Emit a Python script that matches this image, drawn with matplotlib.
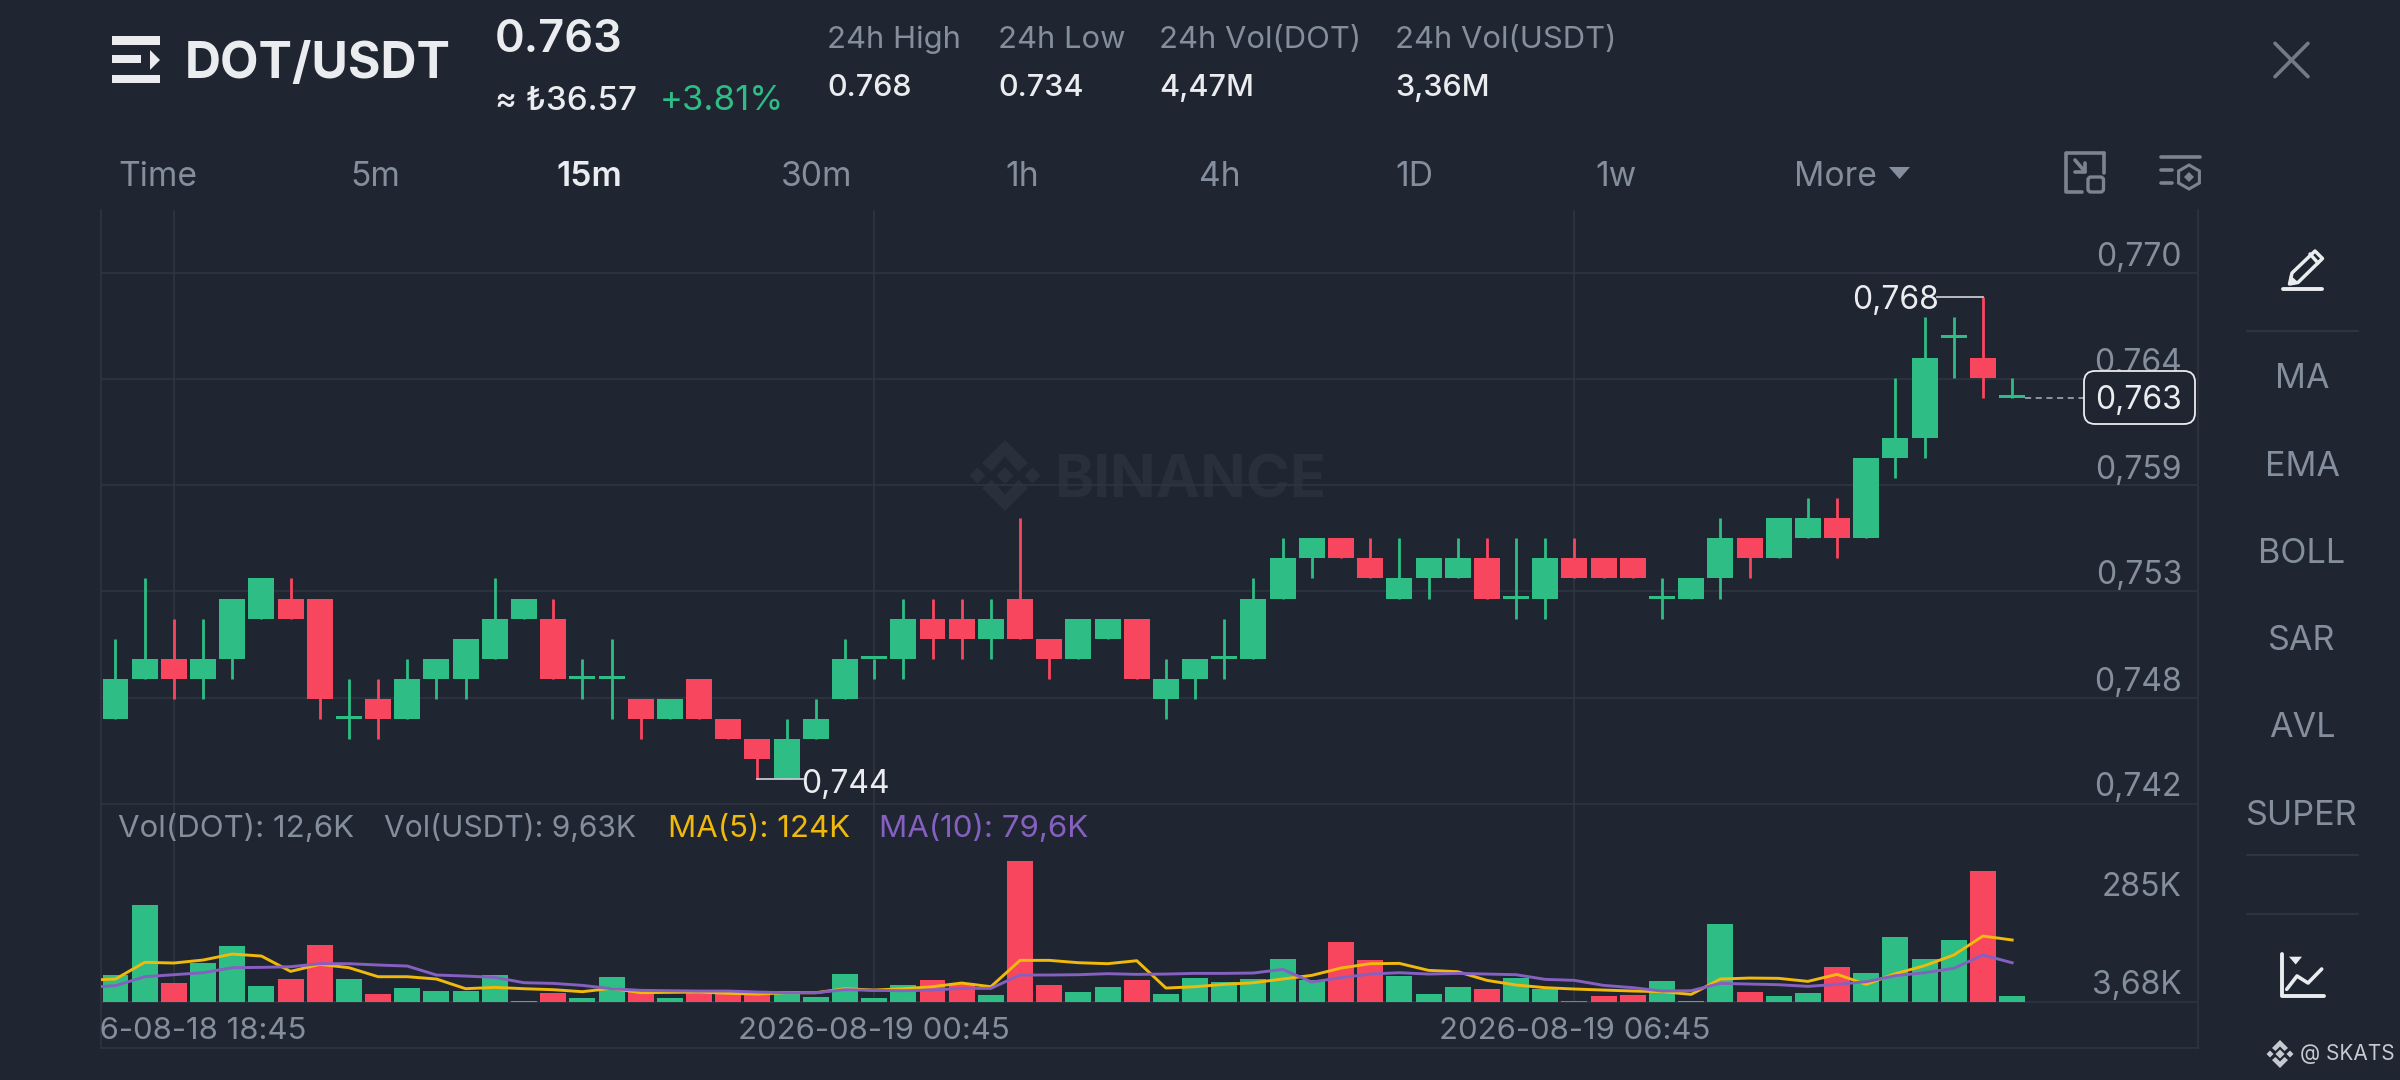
import numpy as np
import matplotlib
matplotlib.use("Agg")
import matplotlib.pyplot as plt
from matplotlib.patches import Rectangle, Polygon, FancyBboxPatch, RegularPolygon

plt.rcParams['font.family'] = ['Inter', 'DejaVu Sans']

# ---------- data ----------
opens = [.747,.749,.750,.749,.750,.752,.753,.753,.747,.748,.747,.749,.749,.750,.752,.752,.749,.749,
         .748,.747,.749,.747,.746,.744,.746,.748,.750,.750,.752,.752,.751,.753,.751,.750,.751,.752,
         .748,.749,.750,.750,.753,.755,.756,.755,.753,.754,.754,.755,.753,.753,.755,.755,.755,.753,
         .753,.754,.756,.755,.756,.757,.756,.760,.761,.766,.765,.763]
closes = [.749,.750,.749,.750,.753,.754,.752,.748,.747,.747,.749,.750,.751,.752,.753,.749,.749,.749,
          .747,.748,.747,.746,.745,.746,.747,.750,.750,.752,.751,.751,.752,.751,.750,.752,.752,.749,
          .749,.750,.750,.753,.755,.756,.755,.754,.754,.755,.755,.753,.753,.755,.754,.754,.754,.753,
          .754,.756,.755,.757,.757,.756,.760,.761,.765,.766,.764,.763]
highs = [.751,.754,.752,.752,.753,.754,.754,.753,.749,.749,.750,.750,.751,.754,.753,.753,.750,.751,
         .748,.748,.749,.747,.746,.747,.748,.751,.750,.753,.753,.753,.753,.757,.751,.752,.752,.752,
         .750,.750,.752,.754,.756,.756,.756,.756,.756,.755,.756,.756,.756,.756,.756,.755,.755,.754,
         .754,.757,.756,.757,.758,.758,.760,.764,.767,.767,.768,.764]
lows = [.747,.749,.748,.748,.749,.752,.752,.747,.746,.746,.747,.748,.748,.750,.752,.749,.748,.747,
        .746,.747,.747,.746,.744,.744,.746,.748,.749,.749,.750,.750,.750,.751,.749,.750,.751,.749,
        .747,.748,.749,.750,.753,.754,.755,.754,.753,.753,.754,.753,.752,.752,.754,.754,.754,.752,
        .753,.753,.754,.755,.756,.755,.756,.759,.760,.764,.763,.763]
volume_k = [55.7,192.8,40.7,79.7,112.9,34.2,47.2,113.5,47.9,18.6,31,25.1,25.1,55,4.3,21.2,10.2,51.1,
            23.2,10.8,23.2,25.1,21.2,25.1,12.8,57,11.5,35.5,46.6,39.4,16.7,278,35.5,23.2,32.3,45.9,
            18,49.8,41.4,48.5,86.9,45.9,119.4,85,54.4,18.6,32.3,29,49.8,29,4.3,15.4,17.3,43.3,4.3,
            155.1,21.9,15.4,19.9,71.9,58.9,129.8,86.2,123.3,259.1,14]
ma5_k = [45.3,47.9,80.4,79.1,84.9,96.6,92.7,62.8,76.5,70,52.4,52.4,47.9,29,31.6,29,27.1,23.2,29.7,
         21.2,21.9,22.5,19.9,18.6,21.2,21.2,29,26.4,29,32.9,40.1,32.9,84.3,84.3,79.7,77.8,83.6,30.3,
         32.9,37.5,40.7,47.9,55,69.3,77.8,78.4,64.8,62.2,45.3,36.2,31,28.4,26.4,24.5,23.2,18,47.9,
         49.8,49.2,43.3,57,37.5,58.3,73.9,94.7,131.7,124]
ma10_k = [31.6,34.9,52.4,56.3,60.2,70,70.6,71.9,77.8,77.8,75.2,73.2,55.7,53.7,51.1,40.7,39.4,35.5,29,
          25.8,25.1,24.5,24.5,22.5,21.2,21.2,27.1,25.8,25.1,26.4,29.7,29.7,55.7,55.7,56.3,58.3,57,
          57.6,58.9,58.9,59.6,66.7,42,50.5,57.6,60.2,57.6,58.9,57.6,56.3,47.2,45.3,35.5,31,24.5,25.1,
          39.4,38.1,36.8,33.6,37.5,42.7,54.4,60.2,68.7,94.7,79.6]
price_ticks = [.76923,.76394,.75864,.75338,.74806]
price_tick_labels = ['0,770','0,764','0,759','0,753','0,748']
pane_floor_price = .74277
pane_floor_label = '0,742'
vol_floor = 3.68
date_labels = ['2026-08-18 18:45','2026-08-19 00:45','2026-08-19 06:45']
date_idx = [2, 26, 50]
timeframes = ['Time','5m','15m','30m','1h','4h','1D','1w','More']
menu = ['MA','EMA','BOLL','SAR','AVL','SUPER']
stats = [('24h High','0.768'),('24h Low','0.734'),('24h Vol(DOT)','4,47M'),('24h Vol(USDT)','3,36M')]
hi_idx, hi_val = 64, .768
lo_idx, lo_val = 22, .744
last_price = .763

# ---------- style ----------
BG='#1F2631'; GRID='#2E3541'; GREEN='#2EBD85'; RED='#F9465F'; GREY='#848E9C'; WHITE='#EAECEF'
YEL='#F0B90B'; PUR='#8660C0'; MARK='#2A303B'
W,H=2400,1080; DPI=100
L,R,T,M,B=100.7,2198,210,804,1048
fig=plt.figure(figsize=(W/DPI,H/DPI),dpi=DPI,facecolor=BG)
def pane(top,bot):
    a=fig.add_axes([L/W,1-bot/H,(R-L)/W,(bot-top)/H],facecolor='none')
    a.set_xlim(-0.507,71.37)
    a.tick_params(length=0,labelleft=False,labelbottom=False)
    for s in a.spines.values(): s.set_color(GRID); s.set_linewidth(1.2)
    a.spines['top'].set_visible(False)
    return a
ax=pane(T,M); av=pane(M,B)
x=np.arange(len(opens))

# price pane
ax.set_ylim(.74277,.77235)
ax.set_yticks(price_ticks); ax.set_xticks(date_idx)
ax.grid(True,color=GRID,lw=1.2,zorder=0); ax.set_axisbelow(True)
o,c,h,l=map(np.array,(opens,closes,highs,lows))
col=[GREEN if a<=b else RED for a,b in zip(o,c)]
ax.vlines(x,l,h,colors=col,lw=2,zorder=3)
dz=o==c
ax.bar(x,np.abs(c-o),.89,bottom=np.minimum(o,c),color=col,zorder=4)
ax.bar(x[dz],.00015,.89,bottom=o[dz],color=GREEN,zorder=4)
PSZ=23
for t,s,dy in zip(price_ticks+[pane_floor_price],price_tick_labels+[pane_floor_label],[15]*5+[16]):
    ax.annotate(s,xy=(1,t),xycoords=('axes fraction','data'),xytext=(-16,dy),textcoords='offset pixels',
                ha='right',va='center',color=GREY,fontsize=PSZ,zorder=6)
ax.plot([hi_idx-1.58,hi_idx],[hi_val,hi_val],color='#C4C8CE',lw=1.3,zorder=5)
ax.annotate('0,768',xy=(hi_idx-1.58,hi_val),xytext=(2,-3),textcoords='offset pixels',ha='right',va='center',color=WHITE,fontsize=PSZ,zorder=6)
ax.plot([lo_idx,lo_idx+1.55],[lo_val,lo_val],color='#C4C8CE',lw=1.3,zorder=5)
ax.annotate('0,744',xy=(lo_idx+1.55,lo_val),xytext=(-2,-5),textcoords='offset pixels',ha='left',va='center',color=WHITE,fontsize=PSZ,zorder=6)
ax.plot([x[-1]+.45,69.2],[last_price,last_price],color='#AEB4BC',lw=1.1,ls=(0,(4,3)),zorder=5)

# volume pane
px_k=1.95
av.set_ylim(vol_floor-(B-1001.7)*px_k,vol_floor+(1001.7-M)*px_k)
av.set_yticks([vol_floor]); av.set_xticks([])
av.grid(True,axis='y',color=GRID,lw=1.2); av.set_axisbelow(True)
av.vlines(date_idx,vol_floor,av.get_ylim()[1],color=GRID,lw=1.2,zorder=0)
v=np.array(volume_k)
av.bar(x,v-vol_floor,.89,bottom=vol_floor,color=col,zorder=2)
xm=np.arange(-1,len(opens))
av.plot(xm,ma5_k,color=YEL,lw=2.1,zorder=3)
av.plot(xm,ma10_k,color=PUR,lw=2.1,zorder=4)
for i,s in zip(date_idx,date_labels):
    av.text(i,vol_floor-(1031-1001.7)*px_k,s,ha='center',va='center',color=GREY,fontsize=22.4,clip_on=True)

# overlay in pixel coordinates
ov=fig.add_axes([0,0,1,1],facecolor='none'); ov.set_xlim(0,W); ov.set_ylim(H,0); ov.axis('off')
def tx(px,py,s,size=21,color=GREY,ha='left',weight='normal',z=10):
    ov.text(px,py,s,fontsize=size,color=color,ha=ha,va='center',fontweight=weight,zorder=z)
def rect(x0,y0,x1,y1,color,z=8):
    ov.add_patch(Rectangle((x0,y0),x1-x0,y1-y0,fc=color,ec='none',zorder=z))
def poly(pts,color,z=8):
    ov.add_patch(Polygon(pts,closed=True,fc=color,ec='none',zorder=z))
def line(xs,ys,color,lw=2.0,z=8):
    ov.plot(xs,ys,color=color,lw=lw,solid_capstyle='round',zorder=z)

# watermark (behind marks)
ax.set_zorder(2); av.set_zorder(2); ov.set_zorder(3)
bgax=fig.add_axes([0,0,1,1],facecolor='none'); bgax.set_xlim(0,W); bgax.set_ylim(H,0); bgax.axis('off'); bgax.set_zorder(1)
cx,cy=1005,475.5
def dia(a,b,r): return [(a,b-r),(a+r,b),(a,b+r),(a-r,b)]
for a,b,r in [(cx,cy,8.5),(cx-27.5,cy,8),(cx+27.5,cy,8)]:
    bgax.add_patch(Polygon(dia(a,b,r),fc=MARK,ec='none'))
bgax.add_patch(Polygon([(cx,cy-35.5),(cx+23,cy-12.5),(cx+13.5,cy-4),(cx,cy-19),(cx-13.5,cy-4),(cx-23,cy-12.5)],fc=MARK,ec='none'))
bgax.add_patch(Polygon([(cx,cy+35.5),(cx+23,cy+12.5),(cx+13.5,cy+4),(cx,cy+19),(cx-13.5,cy+4),(cx-23,cy+12.5)],fc=MARK,ec='none'))
bgax.text(1054,cy+6,'BINANCE',fontsize=43,fontweight='bold',color=MARK,ha='left',va='center')

# header
rect(112,36,160,45,WHITE); rect(112,55,141,63,WHITE); rect(112,75,160,83,WHITE)
poly([(150,50),(160,60),(150,70)],WHITE)
tx(185,64,'DOT/USDT',36,WHITE,weight='bold')
tx(495,40,'0.763',32.5,WHITE,weight='semibold')
tx(495,101,'≈ ₺36.57',23.8,WHITE,weight='medium')
tx(660,101,'+3.81%',25,GREEN)
for px,(a,b) in zip([827,998,1159,1395],stats):
    tx(px,39.5,a,22.3,GREY); tx(px,88,b,22,WHITE,weight='medium')
for px,s in zip([118,350,556,781,1005,1199,1395,1595,1794],timeframes):
    tx(px,177,s,24.2,WHITE if s=='15m' else GREY,weight='semibold' if s=='15m' else 'normal')
poly([(1889,167),(1910,167),(1899.5,179)],GREY)

# toolbar icons
ic='#7D8490'
line([2104,2104],[173,153],ic,2.6); line([2104,2066,2066,2082],[153,153,192,192],ic,2.6)
ov.add_patch(FancyBboxPatch((2088,177),15.5,15,boxstyle='round,pad=0,rounding_size=3',fc='none',ec=ic,lw=2.4,zorder=8))
line([2075,2085],[160,171.7],ic,2.6); line([2085,2085,2075],[163.3,171.7,171.7],ic,2.6)
line([2161,2200],[157,157],ic,2.6); line([2161,2172],[170,170],ic,2.6); line([2161,2172],[183,183],ic,2.6)
ov.add_patch(RegularPolygon((2189,177),6,radius=12,fc='none',ec=ic,lw=2.2,zorder=8))
poly(dia(2189,177,5),ic)

# close X
line([2275,2308],[43.3,76.7],'#737B88',2.6); line([2308,2275],[43.3,76.7],'#737B88',2.6)

# pencil & side menu
ov.add_patch(Polygon([(2292,273),(2315,251),(2322.5,258.5),(2298,282.5),(2289.5,284)],closed=True,fc='none',ec=WHITE,lw=2.5,joinstyle='round',zorder=8))
line([2310,2318],[254,263],WHITE,2.5)
poly([(2290,275),(2298,282),(2289,284.5)],WHITE)
line([2283,2322],[289,289],WHITE,2.8)
for py,s in zip([379.5,467,554,641,728,816],menu):
    tx(2302,py,s,24.6,GREY,ha='center')
for py in [331,855,914]:
    line([2247,2358],[py,py],GRID,1.6)
# chart icon
line([2281.7,2281.7,2324],[954,996,996],WHITE,2.8)
line([2286.7,2297,2308,2321.7],[989.3,976,983,969],WHITE,2.6)
poly([(2289,956.7),(2302,956.7),(2295.7,964.5)],WHITE)

# volume header & labels
tx(118,829,'Vol(DOT): 12,6K',22.5)
tx(384,829,'Vol(USDT): 9,63K',21.6)
tx(668,829,'MA(5): 124K',22.5,YEL)
tx(879,829,'MA(10): 79,6K',22.5,PUR)
tx(2182,887.5,'285K',PSZ,ha='right')
tx(2182,986,'3,68K',PSZ,ha='right')

# last-price tag
ov.add_patch(FancyBboxPatch((2084,371),111,53,boxstyle='round,pad=0,rounding_size=11',fc=BG,ec=WHITE,lw=1.3,zorder=11))
tx(2182,400.5,'0,763',PSZ,WHITE,ha='right',z=12)

# footer badge
kc='#C6CAD0'
for a,b,r in [(2280,1054,4.5),(2270,1054,3.5),(2290,1054,3.5)]:
    poly(dia(a,b,r),kc)
poly([(2280,1040),(2288,1048),(2284.5,1051),(2280,1046.5),(2275.5,1051),(2272,1048)],kc)
poly([(2280,1068),(2288,1060),(2284.5,1057),(2280,1061.5),(2275.5,1057),(2272,1060)],kc)
tx(2300,1054,'@ SKATS',15,kc)

fig.savefig('out.png',dpi=DPI,facecolor=BG)
